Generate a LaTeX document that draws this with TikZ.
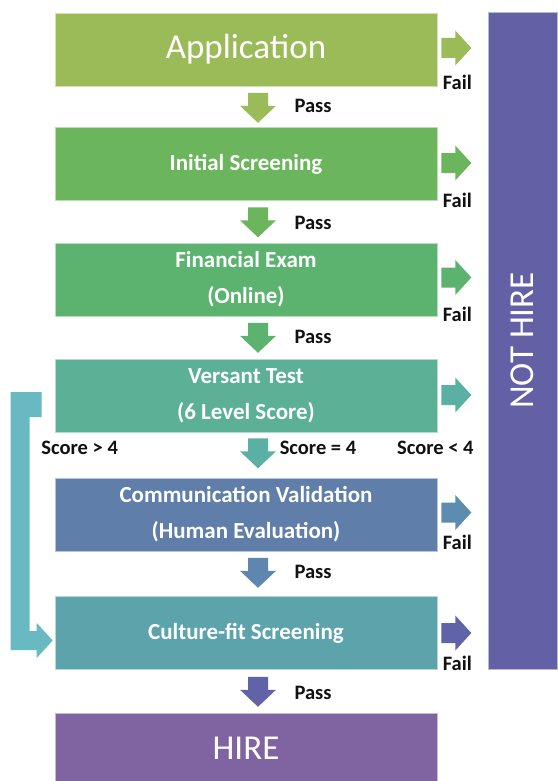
\documentclass[tikz,border=0pt]{standalone}
\usepackage{fontspec}
\setmainfont{Carlito}
\usetikzlibrary{calc}

% stage colours
\definecolor{cApp}{HTML}{9BBB59}
\definecolor{cInit}{HTML}{6BB65C}
\definecolor{cFin}{HTML}{5BB36F}
\definecolor{cVer}{HTML}{5BB095}
\definecolor{cCom}{HTML}{5F7EAA}
\definecolor{cCul}{HTML}{5CA3AC}
\definecolor{cHire}{HTML}{8064A2}
\definecolor{cNot}{HTML}{6460A6}
% arrow colours
\definecolor{aVer}{HTML}{5AB0A2}
\definecolor{aCom}{HTML}{5C8CB0}
\definecolor{aCul}{HTML}{6163A8}
\definecolor{aDownCom}{HTML}{5F86AE}
\definecolor{cBracket}{HTML}{69B9C3}
\definecolor{lblText}{HTML}{111111}

\begin{document}
\begin{tikzpicture}[x=1pt,y=-1pt,
  stage/.style={rectangle, minimum width=382pt, minimum height=73pt, inner sep=0pt,
    text=white, align=center, draw=white!55!#1, fill=#1, line width=0.6pt,
    font=\fontsize{23}{36}\selectfont\bfseries},
  bigtext/.style={font=\fontsize{35}{40}\selectfont},
  lbl/.style={inner sep=0pt, text=lblText, font=\fontsize{20.5}{24}\selectfont\bfseries},
  pics/downarr/.style={code={
    \fill[#1] (-10,0) -- (10,0) -- (10,13) -- (18,13) -- (0,30) -- (-18,13) -- (-10,13) -- cycle;}},
  pics/rightarr/.style={code={
    \fill[#1] (0,-10) -- (14,-10) -- (14,-17.5) -- (30,0) -- (14,17.5) -- (14,10) -- (0,10) -- cycle;}},
]
\useasboundingbox (0,0) rectangle (557,781);

% stages
\node[stage=cApp, bigtext] (app) at (246,49.5) {Application};
\node[stage=cInit] (init) at (246,164) {Initial Screening};
\node[stage=cFin] (fin) at (246,279.5) {Financial Exam\\(Online)};
\node[stage=cVer] (ver) at (246,395.5) {Versant Test\\(6 Level Score)};
\node[stage=cCom] (com) at (246,514.5) {Communication Validation\\(Human Evaluation)};
\node[stage=cCul] (cul) at (246,633) {Culture-fit Screening};
\node[stage=cHire, bigtext, minimum height=70pt] (hire) at (246,748) {HIRE};

% rejection bar
\node[rectangle, fill=cNot, draw=white!55!cNot, line width=0.6pt, text=white, bigtext,
      minimum width=657pt, minimum height=69pt, inner sep=0pt, rotate=90]
      (nothire) at (522.5,340.5) {NOT HIRE};

% pass arrows
\pic at ([xshift=12pt,yshift=-6.5pt]app.south) {downarr=cApp};
\pic at ([xshift=12pt,yshift=-6.5pt]init.south) {downarr=cInit};
\pic at ([xshift=12pt,yshift=-6.5pt]fin.south) {downarr=cFin};
\pic at ([xshift=12pt,yshift=-6pt]ver.south) {downarr=aVer};
\pic at ([xshift=12pt,yshift=-6.5pt]com.south) {downarr=aDownCom};
\pic at ([xshift=12pt,yshift=-7pt]cul.south) {downarr=aCul};

\node[lbl] (p1) at ([xshift=67pt,yshift=-20pt]app.south) {Pass};
\node[lbl] (p2) at ([xshift=67pt,yshift=-22pt]init.south) {Pass};
\node[lbl] (p3) at ([xshift=67pt,yshift=-21pt]fin.south) {Pass};
\node[lbl] (p5) at ([xshift=67pt,yshift=-21pt]com.south) {Pass};
\node[lbl] (p6) at ([xshift=67pt,yshift=-23pt]cul.south) {Pass};

% fail arrows
\pic at ([xshift=4pt,yshift=1.5pt]app.east) {rightarr=cApp};
\pic at ([xshift=4pt,yshift=1pt]init.east) {rightarr=cInit};
\pic at ([xshift=4pt,yshift=2pt]fin.east) {rightarr=cFin};
\pic at ([xshift=4pt,yshift=0.5pt]ver.east) {rightarr=aVer};
\pic at ([xshift=4pt,yshift=2pt]com.east) {rightarr=aCom};
\pic at ([xshift=4pt,yshift=0pt]cul.east) {rightarr=aCul};

\node[lbl] (f1) at ([xshift=20pt,yshift=4pt]app.south east) {Fail};
\node[lbl] (f2) at ([xshift=20pt,yshift=0pt]init.south east) {Fail};
\node[lbl] (f3) at ([xshift=20pt,yshift=2pt]fin.south east) {Fail};
\node[lbl] (f5) at ([xshift=20pt,yshift=9pt]com.south east) {Fail};
\node[lbl] (f6) at ([xshift=20pt,yshift=6pt]cul.south east) {Fail};

% score branches
\node[lbl] (sgt) at ([xshift=25pt,yshift=-16pt]ver.south west) {Score > 4};
\node[lbl] (seq) at ([xshift=72pt,yshift=-16pt]ver.south) {Score = 4};
\node[lbl] (slt) at ([xshift=-2pt,yshift=-16pt]ver.south east) {Score < 4};

% fast track from the Versant test to the culture-fit screening
\fill[cBracket] ([xshift=-44pt,yshift=3.5pt]ver.west) -- ++(31,0) -- ++(0,25) -- ++(-12,0)
  -- ++(0,214) -- ++(7,0) -- ++(0,-8) -- ([xshift=-2pt,yshift=-7.5pt]cul.west)
  -- ++(-16,17.5) -- ++(0,-8) -- ++(-26,0) -- cycle;
\end{tikzpicture}
\end{document}
